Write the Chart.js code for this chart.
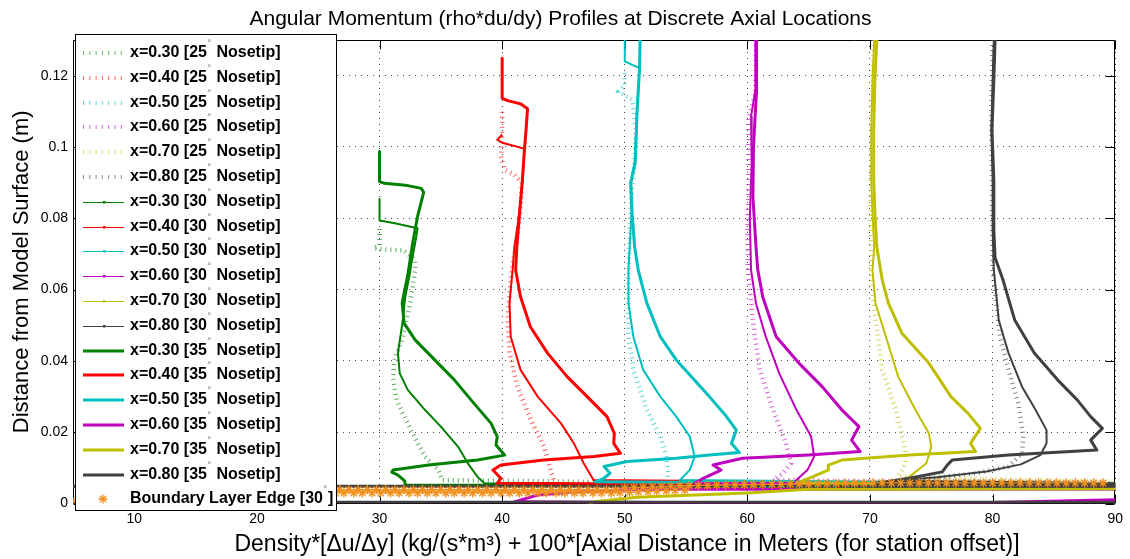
<!DOCTYPE html>
<html>
<head>
<meta charset="utf-8">
<script src="https://cdn.jsdelivr.net/npm/chart.js@4.4.0/dist/chart.umd.min.js"></script>
<style>
  body { margin: 0; background: #fff; }
  #wrap { width: 1130px; height: 559px; }
</style>
</head>
<body>
<div id="wrap"><canvas id="myChart" width="1130" height="559"></canvas></div>
<script>

// ---- data: [x, y] pairs, x = rho*du/dy + 100*station ----

// x = 0.30 (green)
const g25 = [[30.0,0.0770],[30.0,0.0725],[29.5,0.0716],[30.3,0.0713],[32.0,0.0710],[32.9,0.0683],[32.9,0.0655],[32.5,0.0562],[31.9,0.0468],[31.2,0.0400],[31.1,0.0350],[31.4,0.0290],[32.5,0.0210],[33.7,0.0132],[34.8,0.0094],[35.1,0.0066],[120,0.0031]];
const g30 = [[30.0,0.0854],[30.0,0.0794],[31.25,0.0786],[33.1,0.0772],[33.0,0.0749],[32.6,0.0674],[32.45,0.0640],[32.1,0.0580],[31.9,0.0515],[31.5,0.0422],[31.65,0.0365],[32.3,0.0319],[33.7,0.0263],[35.0,0.0216],[36.4,0.0160],[37.2,0.0113],[38.0,0.0075],[38.55,0.0057],[120,0.0040]];
const g35 = [[30.0,0.0987],[30.0,0.0903],[30.4,0.0898],[32.1,0.0893],[33.4,0.0884],[33.6,0.0873],[33.1,0.0805],[32.7,0.0730],[32.3,0.0640],[32.0,0.0590],[31.85,0.0562],[32.0,0.0506],[32.9,0.0459],[34.5,0.0403],[36.1,0.0347],[37.7,0.0281],[39.1,0.0225],[39.6,0.0188],[39.5,0.0164],[40.2,0.0136],[38.0,0.0122],[34.0,0.0108],[31.1,0.0094],[31.0,0.0088],[31.5,0.0080],[32.05,0.0064],[32.1,0.0052],[120,0.0044]];

// x = 0.40 (red)
const r25 = [[40.0,0.1099],[40.0,0.1029],[39.9,0.0973],[40.2,0.0936],[41.0,0.0922],[41.6,0.0900],[41.5,0.0820],[41.2,0.0740],[40.9,0.0680],[40.7,0.0627],[40.45,0.0515],[40.6,0.0422],[41.25,0.0328],[42.35,0.0234],[43.4,0.0160],[44.2,0.0066],[44.3,0.0050],[120,0.0036]];
const r30 = [[40.0,0.1035],[39.6,0.1020],[40.0,0.1012],[41.0,0.1003],[41.8,0.0995],[41.75,0.0950],[41.6,0.0880],[41.3,0.0790],[41.0,0.0720],[40.85,0.0655],[40.6,0.0562],[40.7,0.0468],[41.5,0.0375],[42.9,0.0300],[44.8,0.0225],[45.85,0.0169],[46.65,0.0113],[47.45,0.0066],[120,0.0046]];
const r35 = [[40.0,0.1249],[40.0,0.1137],[40.45,0.1130],[41.5,0.1121],[42.07,0.1107],[41.95,0.1048],[41.8,0.0983],[41.65,0.0908],[41.4,0.0805],[41.2,0.0721],[41.1,0.0655],[41.5,0.0580],[42.3,0.0496],[43.7,0.0422],[45.3,0.0356],[47.2,0.0291],[48.55,0.0244],[49.15,0.0197],[49.1,0.0169],[49.65,0.0141],[47.5,0.0132],[43.4,0.0122],[39.9,0.0108],[39.25,0.0094],[39.5,0.0085],[39.9,0.0071],[39.6,0.0057],[120,0.0042]];

// x = 0.50 (cyan)
const c25 = [[50.0,0.1207],[50.0,0.1174],[49.5,0.1155],[49.7,0.1150],[50.6,0.1132],[50.9,0.1050],[50.8,0.0950],[50.5,0.0850],[50.4,0.0750],[50.3,0.0627],[50.3,0.0468],[50.7,0.0375],[51.8,0.0263],[52.9,0.0188],[53.4,0.0132],[53.55,0.0085],[53.4,0.0060],[120,0.0040]];
const c30 = [[50.0,0.130],[50.0,0.1240],[51.2,0.1221],[51.0,0.1100],[50.8,0.0955],[50.45,0.0900],[50.55,0.0814],[50.4,0.0721],[50.3,0.0655],[50.3,0.0562],[50.7,0.0468],[51.5,0.0375],[52.9,0.0300],[54.2,0.0244],[55.3,0.0188],[55.7,0.0132],[55.3,0.0094],[54.5,0.0066],[120,0.0047]];
const c35 = [[51.25,0.130],[51.2,0.1216],[51.0,0.1095],[50.85,0.0955],[50.5,0.0900],[50.6,0.0814],[50.8,0.0721],[51.1,0.0655],[51.8,0.0562],[52.9,0.0468],[54.2,0.0403],[56.9,0.0300],[58.3,0.0244],[59.1,0.0206],[58.7,0.0169],[59.35,0.0143],[56.9,0.0136],[54.2,0.0127],[50.2,0.0118],[48.3,0.0104],[48.8,0.0085],[48.3,0.0071],[47.6,0.0061],[120,0.0046]];

// x = 0.60 (magenta)
const m25 = [[60.7,0.130],[60.65,0.1150],[60.1,0.1080],[60.1,0.0900],[60.0,0.0750],[60.05,0.0655],[60.45,0.0515],[61.0,0.0375],[62.1,0.0263],[63.15,0.0169],[63.55,0.0113],[62.9,0.0085],[62.1,0.0066],[120,0.0040]];
const m30 = [[60.65,0.130],[60.65,0.1160],[60.3,0.1085],[60.35,0.0955],[60.2,0.0800],[60.3,0.0655],[60.7,0.0562],[61.5,0.0468],[62.6,0.0365],[64.0,0.0263],[65.2,0.0188],[65.45,0.0132],[64.9,0.0094],[64.0,0.0066],[63.7,0.0052],[120,0.0045]];
const m35 = [[60.75,0.130],[60.75,0.1160],[60.5,0.1000],[60.45,0.0861],[60.7,0.0721],[60.85,0.0655],[61.25,0.0580],[62.35,0.0468],[64.2,0.0394],[66.1,0.0328],[67.7,0.0263],[69.1,0.0216],[68.5,0.0178],[69.2,0.0146],[65.0,0.0136],[59.6,0.0127],[57.2,0.0108],[57.85,0.0094],[56.4,0.0071],[55.7,0.0057],[120,0.0049],[120,0.0042],[51.0,0.0040],[45.6,0.0032],[42.9,0.0024],[41.0,0.0005],[60,0.0002],[80,0.0003],[90,0.0011],[120,0.0016]];

// x = 0.70 (olive)
const y25 = [[70.3,0.130],[70.2,0.1100],[70.05,0.0900],[70.1,0.0655],[70.45,0.0515],[71.0,0.0375],[72.1,0.0263],[72.9,0.0150],[72.9,0.0113],[72.3,0.0075],[120,0.0038]];
const y30 = [[70.35,0.130],[70.2,0.1188],[70.1,0.1048],[70.1,0.0908],[70.2,0.0814],[70.35,0.0721],[70.2,0.0655],[70.45,0.0562],[71.3,0.0468],[72.3,0.0356],[73.7,0.0263],[74.8,0.0197],[75.0,0.0160],[74.6,0.0113],[73.2,0.0075],[71.8,0.0057],[120,0.0044]];
const y35 = [[70.55,0.130],[70.4,0.1188],[70.3,0.1048],[70.3,0.0908],[70.4,0.0814],[70.55,0.0721],[71.0,0.0627],[71.5,0.0562],[72.6,0.0478],[74.8,0.0394],[76.6,0.0300],[78.0,0.0253],[79.0,0.0211],[78.2,0.0169],[78.6,0.0146],[73.2,0.0136],[67.7,0.0122],[66.6,0.0108],[66.6,0.0094],[65.0,0.0071],[64.0,0.0057],[120,0.0047],[120,0.0043],[65,0.0040],[60,0.0030],[51,0.0018],[47.5,0.0005],[47,0.0]];

// x = 0.80 (dark grey)
const k25 = [[80.0,0.130],[79.9,0.1100],[79.95,0.0900],[80.0,0.0655],[80.6,0.0468],[81.3,0.0375],[82.1,0.0281],[82.5,0.0188],[82.4,0.0141],[81.3,0.0104],[78.6,0.0085],[73.2,0.0066],[120,0.0040]];
const k30 = [[80.1,0.130],[80.0,0.1188],[79.9,0.1048],[80.0,0.0908],[80.0,0.0767],[80.1,0.0655],[80.5,0.0515],[81.3,0.0422],[82.4,0.0328],[83.5,0.0263],[84.4,0.0206],[84.4,0.0169],[83.9,0.0136],[82.3,0.0110],[79.5,0.0090],[75.5,0.0074],[72.1,0.0064],[120,0.0046]];
const k35 = [[80.2,0.130],[80.1,0.1188],[79.95,0.1048],[80.1,0.0908],[80.1,0.0767],[80.2,0.0690],[80.85,0.0627],[81.8,0.0515],[83.4,0.0422],[85.3,0.0347],[86.9,0.0291],[88.0,0.0244],[88.95,0.0211],[88.0,0.0178],[88.5,0.0150],[81.3,0.0136],[76.7,0.0122],[76.3,0.0108],[75.9,0.0089],[73.2,0.0071],[70.5,0.0057],[120,0.0049],[-20,0.0049],[-20,0.0004],[120,0.0004]];

// boundary layer edge [30 deg] markers
const blEdgeX = [5.2,26,26.75,27.5,28.25,29,29.75,30.5,31.25,32,32.75,33.5,34.25,35,35.75,36.5,37.25,38,38.75,39.5,40.25,41,41.75,42.5,43.25,44,44.75,45.5,46.25,47,47.75,48.5,49.25,50,50.75,51.5,52.25,53,53.75,54.5,55.25,56,56.75,57.5,58.25,59,59.75,60.5,61.25,62,62.75,63.5,64.25,65,65.75,66.5,67.25,68,68.75,69.5,70.25,71,71.75,72.5,73.25,74,74.75,75.5,76.25,77,77.75,78.5,79.25,80,80.75,81.5,82.25,83,83.75,84.5,85.25,86,86.75,87.5,88.25,89];
const blEdgeY = [0.0008,0.0039,0.0039,0.0039,0.0039,0.0039,0.0039,0.0039,0.0039,0.0039,0.0039,0.0039,0.0039,0.0039,0.0039,0.0039,0.0039,0.0039,0.0039,0.0039,0.0039,0.0039,0.0039,0.0039,0.0039,0.0039,0.0039,0.0039,0.0039,0.0039,0.0039,0.0039,0.0039,
  0.0044,0.0045,0.0046,0.0047,0.0048,0.0049,0.0050,
  0.0050,0.0051,0.0051,0.0052,0.0052,0.0053,0.0053,
  0.0053,0.0054,0.0054,0.0054,0.0055,0.0055,0.0055,0.0056,0.0056,0.0056,0.0057,0.0057,0.0057,
  0.0058,0.0058,0.0058,0.0058,0.0058,0.0058,0.0058,0.0058,0.0058,0.0058,0.0058,0.0058,0.0058,0.0058,0.0058,0.0058,0.0058,0.0058,0.0058,0.0058,0.0058,0.0058,0.0058,0.0058,0.0058,0.0058];
const blBandX = [26.4,27.1,27.9,28.6,29.4,30.1,30.9,31.6,32.4,33.1,33.9,34.6,35.4,36.1,36.9,37.6,38.4,39.1,39.9,40.6,41.4,42.1,42.9,43.6,44.4,45.1,45.9,46.6,47.4,48.1,48.9,49.6,50.4,51.1,51.9,52.6,53.4,54.1,54.9];
const blBandY = [0.0030,0.0030,0.0030,0.0030,0.0030,0.0030,0.0030,0.0030,0.0030,0.0030,0.0030,0.0030,0.0030,0.0030,0.0030,0.0030,0.0030,0.0030,0.0030,0.0030,0.0030,0.0030,0.0030,0.0030,0.0030,0.0030,0.0030,0.0030,0.0030,0.0030,0.0030,0.0031,0.0032,0.0033,0.0034,0.0035,0.0036,0.0037,0.0038];

const stations = ['x=0.30', 'x=0.40', 'x=0.50', 'x=0.60', 'x=0.70', 'x=0.80'];
const angles = ['25', '30', '35'];
const profiles = {
  '25': [g25, r25, c25, m25, y25, k25],
  '30': [g30, r30, c30, m30, y30, k30],
  '35': [g35, r35, c35, m35, y35, k35]
};
const colors = ['#008000', '#ff0000', '#00bfbf', '#bf00bf', '#bfbf00', '#404040'];
const blColor = '#f0901e';

const xTicks = [10, 20, 30, 40, 50, 60, 70, 80, 90];
const xTickLabels = ['10', '20', '30', '40', '50', '60', '70', '80', '90'];
const yTicks = [0, 0.02, 0.04, 0.06, 0.08, 0.1, 0.12];
const yTickLabels = ['0', '0.02', '0.04', '0.06', '0.08', '0.1', '0.12'];

const titleText = 'Angular Momentum (rho*du/dy) Profiles at Discrete Axial Locations';
const xTitle = 'Density*[\u0394u/\u0394y] (kg/(s*m\u00b3) + 100*[Axial Distance in Meters (for station offset)]';
const yTitle = 'Distance from Model Surface (m)';
const FONT = '"Liberation Sans", Arial, Helvetica, sans-serif';

function alpha(hex, a) {
  const n = parseInt(hex.slice(1), 16);
  return 'rgba(' + (n >> 16) + ',' + ((n >> 8) & 255) + ',' + (n & 255) + ',' + a + ')';
}

// build datasets, later ones on top (like the original plotting order)
const datasets = [];
const legendItems = [];
angles.forEach(function (ang) {
  profiles[ang].forEach(function (pts, j) {
    const ds = { data: pts, showLine: true, pointRadius: 0, borderColor: colors[j], borderJoinStyle: 'round', clip: 0 };
    if (ang === '25') {
      ds.borderColor = alpha(colors[j], 0.65);
      ds.borderWidth = 4.5;
      ds.borderDash = [1, 4];
      ds.borderJoinStyle = 'miter';
    } else if (ang === '30') {
      ds.borderWidth = 2;
    } else {
      ds.borderWidth = 3;
    }
    datasets.push(ds);
    legendItems.push({ kind: ang, color: colors[j], a: stations[j] + ' [' + ang, b: ' Nosetip]' });
  });
});
const blData = blEdgeX.map(function (x, i) { return [x, blEdgeY[i]]; })
  .concat(blBandX.map(function (x, i) { return [x, blBandY[i]]; }));
datasets.push({ data: blData, showLine: false, pointStyle: 'star', pointRadius: 4.6, borderWidth: 1.4, borderColor: blColor, backgroundColor: blColor, clip: 0 });
legendItems.push({ kind: 'bl', color: blColor, a: 'Boundary Layer Edge [30', b: ']' });
datasets.forEach(function (ds, i) { ds.order = datasets.length - i; });

// box + inward tick marks
const framePlugin = {
  id: 'frame',
  beforeDatasetsDraw(chart) {
    const { ctx, chartArea: a, scales } = chart;
    const L = Math.round(a.left) + 0.5, R = Math.round(a.right) - 0.5;
    const T = Math.round(a.top) + 0.5, B = Math.round(a.bottom) - 0.5;
    ctx.save();
    ctx.strokeStyle = '#000';
    ctx.lineWidth = 1;
    ctx.beginPath();
    ctx.rect(L, T, R - L, B - T);
    xTicks.forEach(function (v) {
      const px = Math.round(scales.x.getPixelForValue(v)) + 0.5;
      ctx.moveTo(px, B); ctx.lineTo(px, B - 9);
      ctx.moveTo(px, T); ctx.lineTo(px, T + 9);
    });
    yTicks.forEach(function (v) {
      const py = Math.round(scales.y.getPixelForValue(v)) + 0.5;
      ctx.moveTo(L, py); ctx.lineTo(L + 9, py);
      ctx.moveTo(R, py); ctx.lineTo(R - 9, py);
    });
    ctx.stroke();
    ctx.restore();
  }
};

// x axis label (sits a little right of the axes centre in the original) + legend box
const legendPlugin = {
  id: 'boxLegend',
  afterDraw(chart) {
    const ctx = chart.ctx;
    ctx.save();
    ctx.fillStyle = '#000';
    ctx.font = '23px ' + FONT;
    ctx.textAlign = 'center';
    ctx.textBaseline = 'middle';
    ctx.fillText(xTitle, 627, 545);
    ctx.restore();

    const bx = 75, by = 34, bw = 261, bh = 476;
    ctx.save();
    ctx.fillStyle = '#fff';
    ctx.fillRect(bx, by, bw, bh);
    ctx.strokeStyle = '#000';
    ctx.lineWidth = 1;
    ctx.strokeRect(bx + 0.5, by + 0.5, bw, bh);
    legendItems.forEach(function (it, i) {
      const yy = Math.round(52.9 + i * 24.8);
      ctx.save();
      if (it.kind === '25') {
        ctx.strokeStyle = alpha(it.color, 0.6);
        ctx.lineWidth = 4;
        ctx.setLineDash([1, 5.3]);
        ctx.beginPath(); ctx.moveTo(83, yy); ctx.lineTo(124, yy); ctx.stroke();
      } else if (it.kind === '30') {
        ctx.strokeStyle = it.color;
        ctx.lineWidth = 1;
        ctx.beginPath(); ctx.moveTo(83, yy + 0.5); ctx.lineTo(124, yy + 0.5); ctx.stroke();
        ctx.fillStyle = it.color;
        ctx.fillRect(103, yy - 1, 2.5, 2.5);
      } else if (it.kind === '35') {
        ctx.strokeStyle = it.color;
        ctx.lineWidth = 3;
        ctx.beginPath(); ctx.moveTo(83, yy); ctx.lineTo(124, yy); ctx.stroke();
      } else {
        ctx.strokeStyle = it.color;
        ctx.lineWidth = 1.3;
        Chart.helpers.drawPoint(ctx, { pointStyle: 'star', radius: 4.5, borderWidth: 1.3, rotation: 0 }, 103, yy);
      }
      ctx.restore();
      ctx.fillStyle = '#000';
      ctx.textBaseline = 'middle';
      ctx.font = 'bold 16px ' + FONT;
      let tx = 130;
      ctx.fillText(it.a, tx, yy);
      tx += ctx.measureText(it.a).width;
      ctx.font = '9px ' + FONT;
      ctx.fillStyle = '#666';
      ctx.fillText('\u00b0', tx + 0.5, yy - 9);
      tx += ctx.measureText('\u00b0').width + 1.5;
      ctx.font = 'bold 16px ' + FONT;
      ctx.fillStyle = '#000';
      ctx.fillText(it.b, tx, yy);
    });
    ctx.restore();
  }
};

Chart.defaults.font.family = FONT;
Chart.defaults.color = '#000';

const ctx = document.getElementById('myChart').getContext('2d');
const myChart = new Chart(ctx, {
  type: 'scatter',
  data: { datasets: datasets },
  plugins: [framePlugin, legendPlugin],
  options: {
    responsive: false,
    animation: false,
    devicePixelRatio: 1,
    layout: { padding: { left: 0, right: 9, top: 0, bottom: 0 } },
    plugins: {
      legend: { display: false },
      tooltip: { enabled: false },
      title: {
        display: true, text: titleText, color: '#000',
        font: { size: 21, weight: 'normal' },
        padding: { top: 7, bottom: 7.8 }
      }
    },
    scales: {
      x: {
        type: 'linear', min: 5, max: 90,
        afterBuildTicks: function (s) { s.ticks = xTicks.map(function (v) { return { value: v }; }); },
        afterFit: function (s) { s.height = 55.4; },
        ticks: {
          autoSkip: false, maxRotation: 0, padding: 7, font: { size: 14 }, color: '#000',
          callback: function (v) { return xTickLabels[xTicks.indexOf(v)]; }
        },
        grid: { color: 'rgba(40,40,40,0.85)', lineWidth: 1, drawTicks: false },
        border: { display: false, dash: [1, 5] },
        title: { display: false }
      },
      y: {
        type: 'linear', min: 0, max: 0.13,
        afterBuildTicks: function (s) { s.ticks = yTicks.map(function (v) { return { value: v }; }); },
        afterFit: function (s) { s.width = 73; },
        ticks: {
          autoSkip: false, padding: 5, font: { size: 14 }, color: '#000',
          callback: function (v) { return yTickLabels[yTicks.indexOf(v)]; }
        },
        grid: { color: 'rgba(40,40,40,0.85)', lineWidth: 1, drawTicks: false },
        border: { display: false, dash: [1, 5] },
        title: { display: true, text: yTitle, color: '#000', font: { size: 22 }, padding: { top: 9, bottom: 0 } }
      }
    }
  }
});
</script>
</body>
</html>
